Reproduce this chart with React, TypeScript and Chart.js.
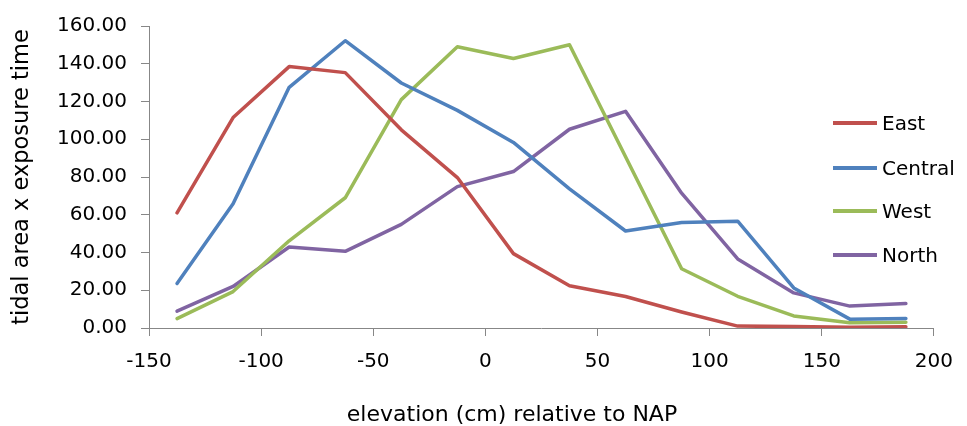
import React, { useEffect, useRef } from "react";
import { Chart, registerables } from "chart.js";

Chart.register(...registerables);

const elevations = [-137.5, -112.5, -87.5, -62.5, -37.5, -12.5, 12.5, 37.5, 62.5, 87.5, 112.5, 137.5, 162.5, 187.5];
const east = [61.0, 111.5, 138.5, 135.3, 105.0, 79.7, 39.4, 22.4, 16.7, 8.5, 1.0, 0.8, 0.4, 0.7];
const central = [23.6, 65.8, 127.5, 152.2, 129.8, 115.3, 98.3, 73.7, 51.4, 55.9, 56.6, 21.2, 4.7, 5.0];
const west = [5.0, 19.3, 46.2, 69.0, 121.0, 149.0, 142.8, 150.1, 90.7, 31.4, 16.8, 6.4, 2.8, 3.0];
const north = [8.9, 22.0, 42.9, 40.6, 54.9, 74.9, 82.9, 105.3, 114.8, 71.4, 36.6, 18.6, 11.6, 13.0];

const seriesNames = ["East", "Central", "West", "North"];
const seriesValues = [east, central, west, north];
const seriesColors = ["#C0504D", "#4F81BD", "#9BBB59", "#8064A2"];

const xTitle = "elevation (cm) relative to NAP";
const yTitle = "tidal area x exposure time";

const FONT = "'DejaVu Sans', Verdana, sans-serif";
const AXIS_COLOR = "#878787";

export default function App() {
  const canvasRef = useRef<HTMLCanvasElement | null>(null);

  useEffect(() => {
    const canvas = canvasRef.current;
    if (!canvas) return;
    const chart = new Chart(canvas, {
      type: "line",
      data: {
        datasets: seriesNames.map((name, i) => ({
          label: name,
          data: elevations.map((x, j) => ({ x, y: seriesValues[i][j] })),
          borderColor: seriesColors[i],
          backgroundColor: seriesColors[i],
          borderWidth: 3.5,
          pointRadius: 0,
          tension: 0,
          borderJoinStyle: "round" as const,
          borderCapStyle: "round" as const,
        })),
      },
      options: {
        animation: false,
        responsive: false,
        devicePixelRatio: 1,
        layout: { padding: { top: 21, right: 19, left: 0, bottom: 0 } },
        plugins: {
          legend: { display: false },
          tooltip: { enabled: false },
        },
        scales: {
          x: {
            type: "linear",
            min: -150,
            max: 200,
            afterFit: (s: any) => {
              s.height = 98;
            },
            ticks: {
              stepSize: 50,
              color: "#000",
              padding: 14,
              maxRotation: 0,
              font: { family: FONT, size: 20 },
            },
            grid: {
              drawOnChartArea: false,
              drawTicks: true,
              tickLength: 8,
              color: AXIS_COLOR,
            },
            border: { display: true, color: AXIS_COLOR, width: 1 },
          },
          y: {
            min: 0,
            max: 160,
            afterFit: (s: any) => {
              s.width = 149;
            },
            ticks: {
              stepSize: 20,
              color: "#000",
              padding: 14,
              font: { family: FONT, size: 20 },
              callback: (v: any) => Number(v).toFixed(2),
            },
            grid: {
              drawOnChartArea: false,
              drawTicks: true,
              tickLength: 8,
              color: AXIS_COLOR,
            },
            border: { display: true, color: AXIS_COLOR, width: 1 },
            title: {
              display: true,
              text: yTitle,
              color: "#000",
              font: { family: FONT, size: 22.5 },
              padding: { top: 9, bottom: 0 },
            },
          },
        },
      },
    });
    return () => chart.destroy();
  }, []);

  const legendYs = [123, 168, 211, 255];

  return (
    <div
      style={{
        position: "fixed",
        left: 0,
        top: 0,
        width: 967,
        height: 426,
        background: "#fff",
        fontFamily: FONT,
      }}
    >
      <canvas ref={canvasRef} width={967} height={426} style={{ display: "block" }} />
      <div
        style={{
          position: "absolute",
          left: 512,
          top: 401,
          transform: "translateX(-50%)",
          fontSize: 22,
          lineHeight: "26px",
          whiteSpace: "nowrap",
          color: "#000",
        }}
      >
        {xTitle}
      </div>
      {seriesNames.map((name, i) => (
        <React.Fragment key={name}>
          <div
            style={{
              position: "absolute",
              left: 833,
              top: legendYs[i] - 2,
              width: 44,
              height: 4,
              background: seriesColors[i],
            }}
          />
          <div
            style={{
              position: "absolute",
              left: 882,
              top: legendYs[i] - 12,
              fontSize: 20,
              lineHeight: "24px",
              whiteSpace: "nowrap",
              color: "#000",
            }}
          >
            {name}
          </div>
        </React.Fragment>
      ))}
    </div>
  );
}
